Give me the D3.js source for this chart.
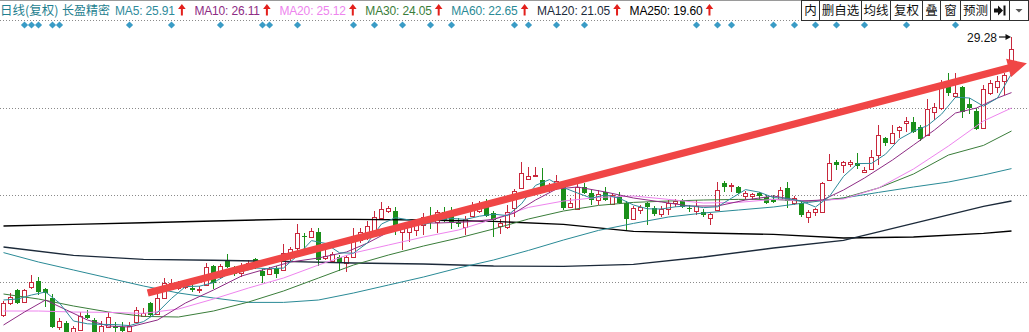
<!DOCTYPE html>
<html>
<head>
<meta charset="utf-8">
<title>长盈精密 日线</title>
<script src="https://d3js.org/d3.v7.min.js"></script>
<style>
  body { margin: 0; background: #fff; }
  svg { display: block; font-family: "Liberation Sans", "Noto Sans CJK SC", sans-serif; }
</style>
</head>
<body>
<div id="chart"></div>
<script>
const W = 1029, H = 332;

// daily candles: [open, high, low, close]
const candles = [
  [15.38,16.08,15.28,15.98],[15.98,16.48,15.88,16.28],[16.63,16.68,15.93,15.98],[16.03,16.68,15.98,16.63],
  [16.78,17.38,16.68,17.03],[17.08,17.28,16.38,16.53],[16.68,16.73,15.78,16.48],[16.23,16.43,14.73,14.78],
  [14.78,15.23,14.63,15.08],[14.98,15.08,14.23,14.33],[14.48,14.83,14.38,14.73],[14.63,15.53,14.58,15.33],
  [15.38,15.63,15.18,15.23],[15.13,15.23,14.33,14.43],[14.43,15.08,14.33,14.83],[14.78,15.53,14.73,15.28],
  [14.83,15.03,14.53,14.73],[14.78,15.03,14.48,14.58],[14.58,15.03,14.53,14.83],[15.03,15.78,14.98,15.63],
  [15.33,15.73,15.28,15.48],[15.98,16.03,15.33,15.38],[15.43,16.48,15.38,16.23],[16.23,17.23,16.18,16.98],
  [16.78,17.18,16.73,16.98],[16.73,17.08,16.63,16.88],[16.78,17.03,16.68,16.93],[16.73,16.98,16.53,16.63],
  [16.63,16.83,16.48,16.68],[16.88,17.98,16.83,17.78],[17.83,17.88,16.68,16.98],[17.28,17.93,17.23,17.83],
  [18.13,18.43,17.73,17.78],[17.73,17.83,17.33,17.43],[17.48,17.98,17.28,17.73],[17.78,18.13,17.73,17.98],
  [18.18,18.23,17.68,17.73],[17.58,17.68,16.98,17.33],[17.43,17.78,17.38,17.68],[17.73,17.83,17.23,17.43],
  [17.63,18.93,17.58,18.48],[18.48,18.78,18.03,18.68],[18.73,19.93,18.53,19.48],[19.33,19.48,18.63,19.28],
  [19.28,19.73,19.23,19.58],[19.53,19.73,17.83,18.13],[18.23,18.78,18.13,18.33],[18.08,18.53,18.03,18.43],
  [18.28,18.38,17.58,17.98],[17.98,18.38,17.53,18.28],[18.28,19.73,18.23,19.33],[19.13,19.73,18.98,19.53],
  [19.33,20.08,19.13,19.83],[19.43,20.58,19.38,20.28],[20.23,21.03,20.18,20.68],[20.58,20.83,20.48,20.73],
  [20.58,20.78,19.38,19.73],[19.53,19.83,18.63,19.73],[19.53,20.03,19.03,19.78],[19.63,20.18,19.33,19.93],
  [19.88,20.48,19.38,20.28],[20.28,20.78,19.68,20.08],[20.03,20.63,19.48,20.53],[20.53,20.78,20.03,20.13],
  [20.53,20.78,19.68,20.03],[20.03,20.23,19.78,19.93],[19.78,20.33,19.38,20.18],[20.33,21.03,20.28,20.68],
  [20.58,21.08,20.48,20.78],[20.88,21.18,20.28,20.33],[20.48,20.58,19.28,20.13],[19.83,20.18,19.43,19.98],
  [19.78,20.88,19.68,20.53],[20.73,21.68,20.28,21.58],[21.73,23.03,21.68,22.48],[22.18,22.78,22.13,22.33],
  [22.31,22.78,22.28,22.38],[22.13,22.73,21.48,21.73],[21.68,21.98,21.48,21.83],[21.83,22.38,21.63,22.08],
  [21.78,21.88,20.63,20.73],[20.78,21.23,20.73,20.98],[20.68,22.03,20.63,21.78],[21.78,21.98,21.43,21.48],
  [21.48,21.68,20.88,21.13],[21.13,21.63,20.88,21.43],[21.53,21.78,21.08,21.13],[20.93,21.48,20.88,21.38],
  [21.33,21.53,20.93,20.98],[20.98,21.08,19.63,20.18],[20.18,20.83,20.13,20.73],[20.63,20.88,20.43,20.78],
  [20.98,21.03,19.88,20.78],[20.73,20.83,20.33,20.43],[20.43,20.83,20.28,20.68],[20.68,21.13,20.38,20.98],
  [20.98,21.18,20.78,21.08],[21.08,21.18,20.73,20.78],[20.73,20.88,20.53,20.68],[20.58,21.13,20.38,20.83],
  [20.53,20.68,20.28,20.38],[20.23,20.48,19.88,20.43],[20.63,22.03,20.58,21.63],[21.98,22.08,21.53,21.78],
  [21.83,21.98,21.53,21.88],[21.78,21.83,21.43,21.48],[21.33,21.58,21.18,21.48],[21.33,21.48,21.13,21.43],
  [21.48,21.53,21.18,21.33],[21.28,21.38,20.93,20.98],[21.13,21.38,20.98,21.03],[21.18,21.78,21.13,21.63],
  [21.73,22.03,20.73,21.08],[20.98,21.33,20.88,21.23],[20.98,21.08,20.28,20.38],[20.28,20.63,19.98,20.53],
  [20.53,20.73,20.33,20.68],[20.53,22.03,20.48,21.98],[22.13,23.43,22.08,22.98],[23.03,23.13,22.63,22.88],
  [22.88,23.08,22.48,23.03],[22.93,23.13,22.78,23.03],[22.98,23.48,22.68,22.83],[22.53,22.78,22.48,22.63],
  [22.68,23.63,22.63,23.28],[23.38,24.88,22.88,24.38],[24.23,24.28,23.83,23.98],[23.98,24.88,23.93,24.48],
  [24.63,24.83,24.23,24.78],[24.98,25.28,24.53,25.08],[25.03,25.28,24.48,24.53],[24.78,24.88,24.08,24.18],
  [24.38,26.18,24.33,25.68],[25.53,25.98,25.13,25.78],[25.73,27.13,25.63,26.93],[26.83,27.48,26.33,26.48],
  [26.33,27.48,26.23,26.48],[26.78,26.83,25.23,25.53],[25.93,26.23,25.43,25.73],[25.58,25.73,24.63,24.68],
  [24.73,26.88,24.68,26.68],[26.48,27.13,26.38,26.98],[26.78,27.33,26.48,27.08],[27.08,27.48,26.38,27.38],
  [27.73,29.28,27.53,28.68]
];

// moving averages
const ma5Days = d3.range(0, 145, 2);
const ma5 = [16.13,16.18,16.38,16.53,15.98,15.08,14.94,14.91,14.90,14.85,15.05,15.51,16.21,16.80,16.82,17.00,
  17.41,17.55,17.73,17.69,17.73,18.35,19.10,18.96,18.49,18.47,18.99,19.93,20.25,20.13,19.89,20.12,20.21,20.16,
  20.32,20.42,20.35,20.94,21.86,22.15,21.75,21.48,21.22,21.39,21.21,20.88,20.69,20.68,20.79,20.84,20.75,20.79,
  21.22,21.65,21.52,21.25,21.21,21.07,20.78,21.31,22.31,22.95,22.96,23.42,24.18,24.57,24.85,25.42,26.27,26.23,
  25.82,26.23,27.45];
const ma10Days = [0,3,6,9,12,15,18,22,26,30,34,37,41,45,49,52,55,58,62,66,70,73,76,79,82,86,90,94,98,102,
  106,110,114,117,120,123,127,130,133,136,139,142,144];
const ma10 = [14.88,15.53,16.13,15.63,15.13,14.83,14.78,15.13,15.98,16.63,17.33,17.63,18.03,18.23,18.53,18.98,
  19.53,19.98,19.98,20.03,20.16,20.48,21.13,21.68,21.78,21.53,21.23,21.03,20.83,20.83,21.13,21.33,21.08,21.13,
  21.63,22.23,23.13,23.88,24.63,25.48,25.73,26.23,26.50];
const midDays = [0,5,10,15,20,25,30,35,40,45,50,55,60,65,70,75,80,85,90,95,100,105,110,115,120,125,130,135,140,144];
const ma20 = [15.58,15.58,15.53,15.51,15.46,15.68,16.18,16.73,17.23,17.88,18.48,18.88,19.28,19.63,20.18,20.76,
  21.08,21.26,21.33,21.16,20.98,21.01,21.16,21.08,21.18,21.73,22.68,23.83,25.08,25.73];
const ma30 = [16.43,16.18,15.83,15.53,15.31,15.28,15.58,16.03,16.58,17.23,17.88,18.38,18.83,19.23,19.68,20.18,
  20.58,20.86,21.01,21.08,21.13,21.16,21.16,21.06,21.23,21.73,22.43,23.38,23.86,24.58];
const ma60 = [18.50,18.03,17.63,17.23,16.83,16.48,16.23,16.01,16.01,16.13,16.48,16.88,17.28,17.73,18.13,18.61,
  19.13,19.61,19.96,20.28,20.48,20.63,20.78,21.01,21.23,21.51,21.78,22.03,22.38,22.70];
const longDays = [0,10,20,30,40,50,60,70,80,90,100,110,120,130,140,144];
const ma120 = [18.78,18.36,18.16,18.12,18.06,17.98,17.93,17.83,17.81,17.91,18.28,18.73,19.11,19.96,20.81,21.08];
const ma250 = [19.83,19.91,19.99,20.08,20.16,20.16,20.13,20.06,19.91,19.56,19.48,19.41,19.23,19.28,19.46,19.58];

const titles = ["日线(复权)", "长盈精密"];
const maNames = ["MA5", "MA10", "MA20", "MA30", "MA60", "MA120", "MA250"];
const maLast = ["25.91", "26.11", "25.12", "24.05", "22.65", "21.05", "19.60"];
const buttons = ["内", "删自选", "均线", "复权", "叠", "窗", "预测"];
const signalDays = [3,4,5,7,8,18,24,31,37,38,42,50,53,57,61,64,73,75,79,83,99,102,104,110,113,116,119,123,129,136];
const gridPrices = [25.73, 21.38, 17.03];
const highLabel = "29.28";
const trendFrom = [20.6, 16.48], trendTo = [146.2, 27.97];

const RED = "#c8283c", GREEN = "#1a8f1a";
const maColors = ["#2f8b9b", "#8e2c84", "#ee84ee", "#3a7d3a", "#2a8a96", "#1c2a3a", "#000000"];

const svg = d3.select("#chart").append("svg").attr("width", W).attr("height", H);
svg.append("rect").attr("width", W).attr("height", H).attr("fill", "#fff");

const x = d3.scaleLinear().domain([0, 144]).range([3.5, 1011.5]);
const y = d3.scaleLinear().domain([14.53, 30.13]).range([332, 20]);

// dotted grid
svg.append("g").selectAll("line").data(gridPrices).join("line")
  .attr("x1", 0).attr("x2", W)
  .attr("y1", d => Math.round(y(d)) + 0.5).attr("y2", d => Math.round(y(d)) + 0.5)
  .attr("stroke", "#8a8a8a").attr("stroke-dasharray", "1,2");

// candles
const cg = svg.append("g").attr("shape-rendering", "crispEdges");
candles.forEach((c, i) => {
  const [o, h, l, cl] = c;
  const cx = x(i);
  const top = y(Math.max(o, cl)), bot = y(Math.min(o, cl));
  if (cl >= o) {
    cg.append("line").attr("x1", cx).attr("x2", cx).attr("y1", y(h)).attr("y2", top).attr("stroke", RED);
    cg.append("line").attr("x1", cx).attr("x2", cx).attr("y1", bot).attr("y2", y(l)).attr("stroke", RED);
    cg.append("rect").attr("x", cx - 2).attr("y", top).attr("width", 4)
      .attr("height", Math.max(bot - top, 1)).attr("fill", "#fff").attr("stroke", RED);
  } else {
    cg.append("line").attr("x1", cx).attr("x2", cx).attr("y1", y(h)).attr("y2", y(l)).attr("stroke", GREEN);
    cg.append("rect").attr("x", cx - 2.5).attr("y", top).attr("width", 5)
      .attr("height", Math.max(bot - top, 1)).attr("fill", GREEN);
  }
});

// moving average lines
const line = d3.line().x(d => x(d[0])).y(d => y(d[1]));
const maSeries = [
  [ma250, longDays, 6, 1.4], [ma120, longDays, 5, 1.4], [ma60, midDays, 4, 1],
  [ma30, midDays, 3, 1], [ma20, midDays, 2, 1], [ma10, ma10Days, 1, 1], [ma5, ma5Days, 0, 1]
];
maSeries.forEach(([vals, days, ci, w]) => {
  svg.append("path")
    .datum(vals.map((v, k) => [days[k], v]))
    .attr("d", line)
    .attr("fill", "none")
    .attr("stroke", maColors[ci])
    .attr("stroke-width", w);
});

// trend arrow
{
  const x0 = x(trendFrom[0]), y0 = y(trendFrom[1]);
  const x1 = x(trendTo[0]), y1 = y(trendTo[1]);
  const len = Math.hypot(x1 - x0, y1 - y0);
  const ux = (x1 - x0) / len, uy = (y1 - y0) / len;
  const px = -uy, py = ux;
  const sw = 3.6, hw = 9.5, hl = 19;
  const bx = x1 - ux * hl, by = y1 - uy * hl;
  const pts = [
    [x0 + px * sw, y0 + py * sw], [bx + px * sw, by + py * sw], [bx + px * hw, by + py * hw],
    [x1, y1], [bx - px * hw, by - py * hw], [bx - px * sw, by - py * sw], [x0 - px * sw, y0 - py * sw]
  ];
  svg.append("path").attr("d", "M" + pts.map(p => p.join(",")).join("L") + "Z")
    .attr("fill", "#f04646");
}

// high label
{
  const hi = d3.max(candles, d => d[1]);
  const hy = y(hi);
  svg.append("text").attr("x", 997).attr("y", hy + 4.5).attr("text-anchor", "end")
    .attr("font-size", 12).attr("fill", "#111").text(highLabel);
  svg.append("line").attr("x1", 999).attr("x2", 1006).attr("y1", hy).attr("y2", hy)
    .attr("stroke", "#111").attr("stroke-width", 1.2);
  svg.append("path").attr("d", `M1011,${hy}L1005.5,${hy - 3}L1005.5,${hy + 3}Z`).attr("fill", "#111");
}

// signal diamonds
svg.append("g").selectAll("path").data(signalDays).join("path")
  .attr("d", d => `M${x(d)},21.5L${x(d) + 3.6},25L${x(d)},28.5L${x(d) - 3.6},25Z`)
  .attr("fill", "#3a9cc6");

// header
svg.append("line").attr("x1", 0).attr("x2", W).attr("y1", 0.5).attr("y2", 0.5).attr("stroke", "#9a9a9a");
svg.append("line").attr("x1", 0).attr("x2", 801).attr("y1", 20.5).attr("y2", 20.5)
  .attr("stroke", "#8a8a8a").attr("stroke-dasharray", "1,2");

const head = svg.append("g").attr("font-size", 12);
head.append("text").attr("x", 0).attr("y", 14.5).attr("fill", "#1f7f90")
  .attr("font-family", "Noto Sans CJK SC, sans-serif").attr("font-size", 12.5).text(titles[0]);
head.append("text").attr("x", 62).attr("y", 14.5).attr("fill", "#1f7f90")
  .attr("font-family", "Noto Sans CJK SC, sans-serif").attr("font-size", 12).text(titles[1]);

let cursor = 115;
maNames.forEach((n, k) => {
  const t = head.append("text").attr("x", cursor).attr("y", 14.5)
    .attr("fill", maColors[k]).attr("letter-spacing", -0.15).text(`${n}: ${maLast[k]}`);
  const end = cursor + t.node().getComputedTextLength();
  const ax = end + 7;
  head.append("path")
    .attr("d", `M${ax - 1},15.5L${ax - 1},9L${ax - 3.8},9L${ax},4L${ax + 3.8},9L${ax + 1},9L${ax + 1},15.5Z`)
    .attr("fill", "#e3201c");
  cursor = ax + 12.5;
});

// toolbar buttons
const edges = [801.5, 819.5, 861.5, 890.5, 922.5, 940.5, 960.5, 990.5, 1009.5, 1028.5];
const tb = svg.append("g").attr("shape-rendering", "crispEdges");
tb.append("rect").attr("x", 801.5).attr("y", 0.5).attr("width", 227).attr("height", 20)
  .attr("fill", "#fff").attr("stroke", "#303030");
tb.selectAll("line").data(edges.slice(1, -1)).join("line")
  .attr("x1", d => d).attr("x2", d => d).attr("y1", 0).attr("y2", 20).attr("stroke", "#303030");
svg.append("g").selectAll("text").data(buttons).join("text")
  .attr("x", (d, k) => (edges[k] + edges[k + 1]) / 2).attr("y", 15)
  .attr("text-anchor", "middle").attr("font-size", 12.5)
  .attr("font-family", "Noto Sans CJK SC, sans-serif").attr("fill", "#111").text(d => d);
{
  const cx = (edges[7] + edges[8]) / 2;
  svg.append("path")
    .attr("d", `M${cx - 6},8.5L${cx - 2},8.5L${cx - 2},5.5L${cx + 3},10.5L${cx - 2},15.5L${cx - 2},12.5L${cx - 6},12.5Z`)
    .attr("fill", "#111");
  svg.append("rect").attr("x", cx + 3.5).attr("y", 5.5).attr("width", 2).attr("height", 10).attr("fill", "#111");
  const dx = (edges[8] + edges[9]) / 2;
  svg.append("path").attr("d", `M${dx - 3.5},9L${dx + 3.5},9L${dx},12.5Z`).attr("fill", "#555");
}
</script>
</body>
</html>
